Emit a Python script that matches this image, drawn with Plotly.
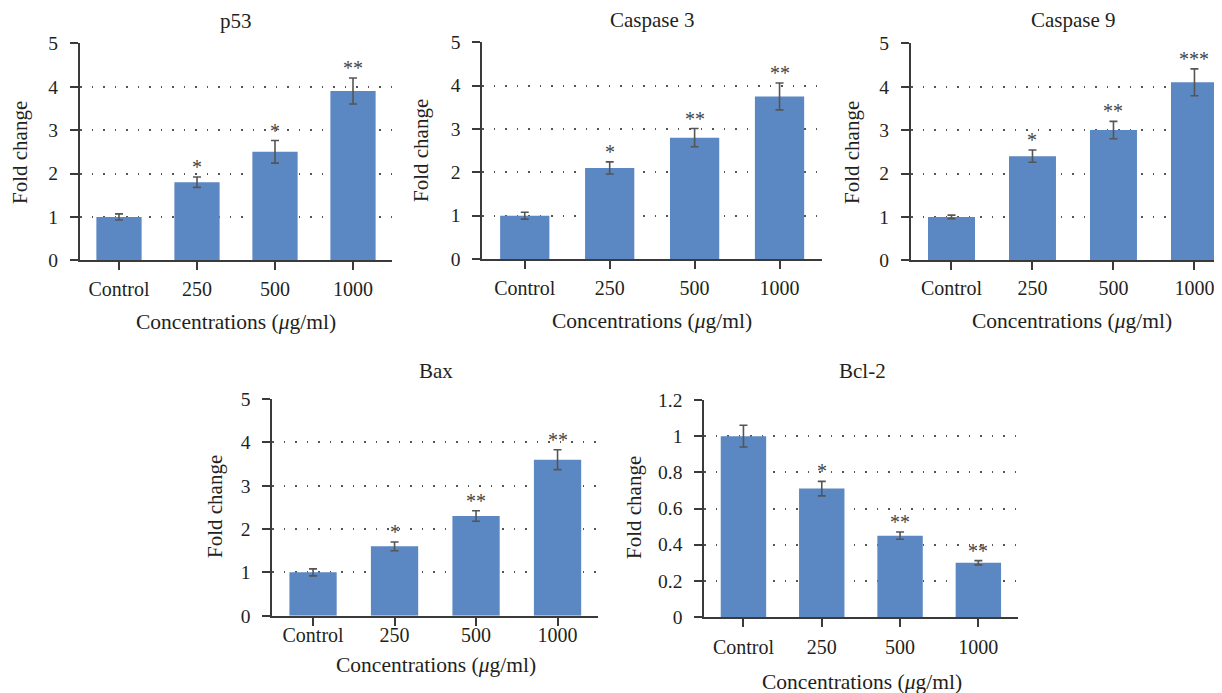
import plotly.graph_objects as go

# The page body adds an 8px margin, so the figure is 8px smaller than the window
OFF = 8
W, H = 1222 - OFF, 693 - OFF

categories = ["Control", "250", "500", "1000"]

p53_vals = [1.0, 1.8, 2.5, 3.9]
p53_err = [0.07, 0.12, 0.26, 0.30]
p53_sig = ["", "*", "*", "**"]

casp3_vals = [1.0, 2.1, 2.8, 3.75]
casp3_err = [0.08, 0.14, 0.21, 0.31]
casp3_sig = ["", "*", "**", "**"]

casp9_vals = [1.0, 2.4, 3.0, 4.1]
casp9_err = [0.04, 0.14, 0.20, 0.31]
casp9_sig = ["", "*", "**", "***"]

bax_vals = [1.0, 1.6, 2.3, 3.6]
bax_err = [0.08, 0.10, 0.12, 0.23]
bax_sig = ["", "*", "**", "**"]

bcl2_vals = [1.0, 0.71, 0.45, 0.30]
bcl2_err = [0.06, 0.04, 0.02, 0.012]
bcl2_sig = ["", "*", "**", "**"]

panel_titles = ["p53", "Caspase 3", "Caspase 9", "Bax", "Bcl-2"]
x_title = "Concentrations (<i>μ</i>g/ml)"
y_title = "Fold change"

FONT = "Liberation Serif"
BAR = "#5b87c2"
AX = "#3a3a3a"
TXT = "#231f20"

# layout geometry (screen pixels)
panels = [
    dict(vals=p53_vals, err=p53_err, sig=p53_sig, x0=80, x1=392, y0=43.3, y1=260.3,
         xr=[-0.5, 3.5], yr=[0, 5], dt=1, so=2,
         tpos=(236, 21), xt=(236, 322), yt=(20, 153)),
    dict(vals=casp3_vals, err=casp3_err, sig=casp3_sig, x0=482.3, x1=822, y0=42.3, y1=259,
         xr=[-0.5, 3.5], yr=[0, 5], dt=1, so=2,
         tpos=(652, 20), xt=(652, 321), yt=(421, 151)),
    dict(vals=casp9_vals, err=casp9_err, sig=casp9_sig, x0=911, x1=1222, y0=43.3, y1=260.3,
         xr=[-0.5, 3.34], yr=[0, 5], dt=1, so=1,
         tpos=(1073, 20), xt=(1072, 321), yt=(852, 153)),
    dict(vals=bax_vals, err=bax_err, sig=bax_sig, x0=272.3, x1=598.3, y0=399, y1=615.7,
         xr=[-0.5, 3.5], yr=[0, 5], dt=1, so=-8,
         tpos=(436, 371), xt=(436, 665), yt=(215, 507)),
    dict(vals=bcl2_vals, err=bcl2_err, sig=bcl2_sig, x0=704.3, x1=1018.3, y0=400, y1=617,
         xr=[-0.5, 3.51], yr=[0, 1.2], dt=0.2, so=3,
         tpos=(862, 371), xt=(862, 682), yt=(634, 508)),
]


def px(x):
    return (x - OFF) / W


def py(y):
    return 1 - (y - OFF) / H


fig = go.Figure()
annotations = []
layout_axes = {}

for i, p in enumerate(panels):
    n = "" if i == 0 else str(i + 1)
    xa, ya = "x" + n, "y" + n
    fig.add_trace(go.Bar(
        x=categories, y=p["vals"], xaxis=xa, yaxis=ya, width=0.58,
        marker=dict(color=BAR, line=dict(width=0)),
        error_y=dict(type="data", array=p["err"], visible=True, color="#555555",
                     thickness=1.6, width=4),
        showlegend=False, hoverinfo="skip",
    ))
    common = dict(showline=True, linecolor=AX, linewidth=2, ticks="outside",
                  ticklen=8, tickwidth=2, tickcolor=AX, automargin=False)
    layout_axes["xaxis" + n] = dict(
        domain=[px(p["x0"]), min(1.0, px(p["x1"]))], anchor=ya, type="category",
        range=p["xr"], showgrid=False, zeroline=False, ticklabelstandoff=p["so"],
        tickfont=dict(family=FONT, size=20, color=TXT), **common)
    layout_axes["yaxis" + n] = dict(
        domain=[py(p["y1"]), py(p["y0"])], anchor=xa,
        range=p["yr"], dtick=p["dt"], tick0=0, showgrid=True,
        gridcolor="#555555", gridwidth=1.5, griddash="1.5px,10px",
        zeroline=False, ticklabelstandoff=8,
        tickfont=dict(family=FONT, size=19.5, color=TXT), **common)
    annotations.append(dict(text=panel_titles[i], x=px(p["tpos"][0]), y=py(p["tpos"][1]),
                            xref="paper", yref="paper", showarrow=False,
                            xanchor="center", yanchor="middle",
                            font=dict(family=FONT, size=21, color=TXT)))
    annotations.append(dict(text=x_title, x=px(p["xt"][0]), y=py(p["xt"][1]),
                            xref="paper", yref="paper", showarrow=False,
                            xanchor="center", yanchor="middle",
                            font=dict(family=FONT, size=21.5, color=TXT)))
    annotations.append(dict(text=y_title, x=px(p["yt"][0]), y=py(p["yt"][1]),
                            xref="paper", yref="paper", showarrow=False, textangle=-90,
                            xanchor="center", yanchor="middle",
                            font=dict(family=FONT, size=21, color=TXT)))
    for k, (v, e, s) in enumerate(zip(p["vals"], p["err"], p["sig"])):
        if s:
            annotations.append(dict(text=s, x=k, y=v + e, xref=xa, yref=ya,
                                    showarrow=False, xanchor="center", yanchor="bottom",
                                    yshift=-3,
                                    font=dict(family=FONT, size=20, color="#444444")))

fig.update_layout(
    width=W, height=H, margin=dict(l=0, r=0, t=0, b=0, autoexpand=False),
    plot_bgcolor="white", paper_bgcolor="white",
    annotations=annotations, **layout_axes,
)

fig.write_html("out.html")
